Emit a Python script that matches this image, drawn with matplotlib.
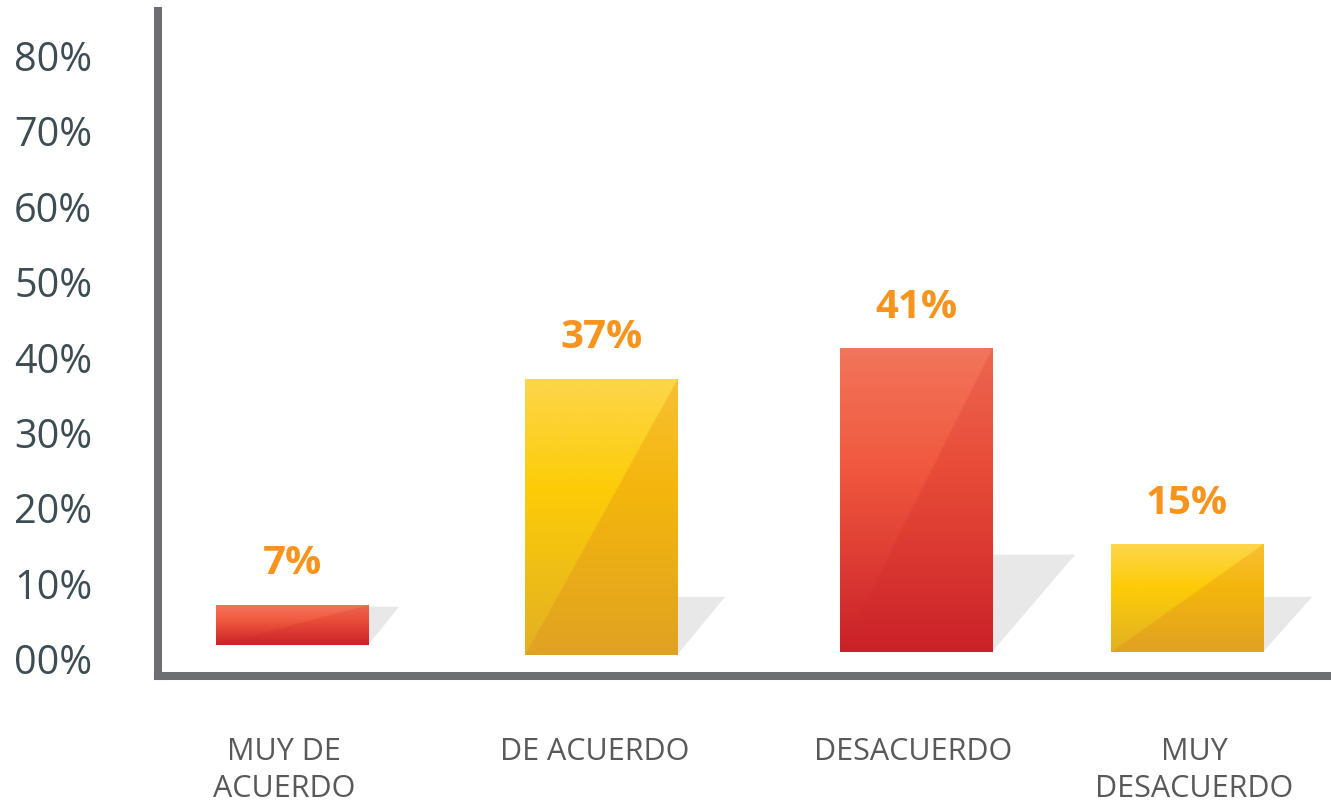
import numpy as np
import matplotlib
matplotlib.use("Agg")
import matplotlib.pyplot as plt
from matplotlib.patches import Polygon
from matplotlib.colors import to_rgb

# ---- data ----
categories = ["MUY DE\nACUERDO", "DE ACUERDO", "DESACUERDO", "MUY\nDESACUERDO"]
values = [7, 37, 41, 15]
value_labels = ["7%", "37%", "41%", "15%"]
ytick_values = [0, 10, 20, 30, 40, 50, 60, 70, 80]
ytick_labels = ["00%", "10%", "20%", "30%", "40%", "50%", "60%", "70%", "80%"]
bar_kind = ["red", "yellow", "red", "yellow"]

# ---- layout / style ----
xpos = [0.0, 1.0, 2.019, 2.896]
label_dx = [-0.026, -0.02, -0.01, 0.023]
bar_w = 0.492
bar_base = [1.7, 0.4, 0.8, 0.8]
shadow_h = [5.1, 7.7, 12.9, 7.3]
shadow_dx = [0.100, 0.155, 0.269, 0.159]

grad = {
    "yellow": {
        "left": [(0.0, "#fdd64b"), (0.40, "#fdcc07"), (1.0, "#e2b024")],
        "right": [(0.0, "#f7c035"), (0.40, "#f4b60c"), (1.0, "#e0a223")],
    },
    "red": {
        "left": [(0.0, "#f2755b"), (0.40, "#f0583e"), (1.0, "#ca2028")],
        "right": [(0.0, "#ec6651"), (0.40, "#e84c38"), (1.0, "#cb2129")],
    },
}


def ramp(stops, t):
    ts = np.array([s[0] for s in stops])
    cols = np.array([to_rgb(s[1]) for s in stops])
    return np.stack([np.interp(t, ts, cols[:, k]) for k in range(3)], axis=-1)


def bar_image(kind, n=300, m=120):
    t = np.linspace(0, 1, n)[:, None] * np.ones((1, m))
    s = np.ones((n, 1)) * np.linspace(0, 1, m)[None, :]
    left = ramp(grad[kind]["left"], t)
    right = ramp(grad[kind]["right"], t)
    mask = (s + t < 1.0)[..., None]
    return np.where(mask, left, right)


W, H, DPI = 1331, 804, 100
fig = plt.figure(figsize=(W / DPI, H / DPI), dpi=DPI)
ax = fig.add_axes([158 / W, 1 - 677 / H, 1 - 158 / W, (677 - 12) / H])

for i, v in enumerate(values):
    x0 = xpos[i] - bar_w / 2
    x1 = xpos[i] + bar_w / 2
    b = bar_base[i]
    # shadow
    poly = Polygon([(x0, b), (x1, b), (x1 + shadow_dx[i], b + shadow_h[i]),
                    (x0 + shadow_dx[i], b + shadow_h[i])],
                   closed=True, facecolor="#e8e8e8", edgecolor="none", zorder=1)
    ax.add_patch(poly)
    # gradient bar
    ax.imshow(bar_image(bar_kind[i]), extent=(x0, x1, b, v), origin="upper",
              aspect="auto", interpolation="bilinear", zorder=2)
    ax.text(xpos[i], v + 5.6, value_labels[i], ha="center", va="center",
            fontsize=29, fontweight="bold", color="#f7941d", family="Open Sans")

ax.set_xlim(-0.434, 3.362)
ax.set_ylim(-2.39, 85.8)

ax.set_yticks(ytick_values)
ax.set_yticklabels(ytick_labels, fontsize=28.5, color="#3d4d53", family="Open Sans")
ax.tick_params(axis="y", length=0, pad=103.5)
for lbl in ax.get_yticklabels():
    lbl.set_horizontalalignment("left")
ax.set_xticks([])

for i, c in enumerate(categories):
    ax.text(xpos[i] + label_dx[i], -10.4, c, ha="center", va="top", fontsize=22,
            color="#58595b", family="Open Sans", linespacing=1.27)

for side in ["top", "right"]:
    ax.spines[side].set_visible(False)
for side in ["left", "bottom"]:
    ax.spines[side].set_color("#6d6e71")
    ax.spines[side].set_linewidth(5.8)
    ax.spines[side].set_capstyle("projecting")

fig.savefig("out.png", dpi=DPI)
